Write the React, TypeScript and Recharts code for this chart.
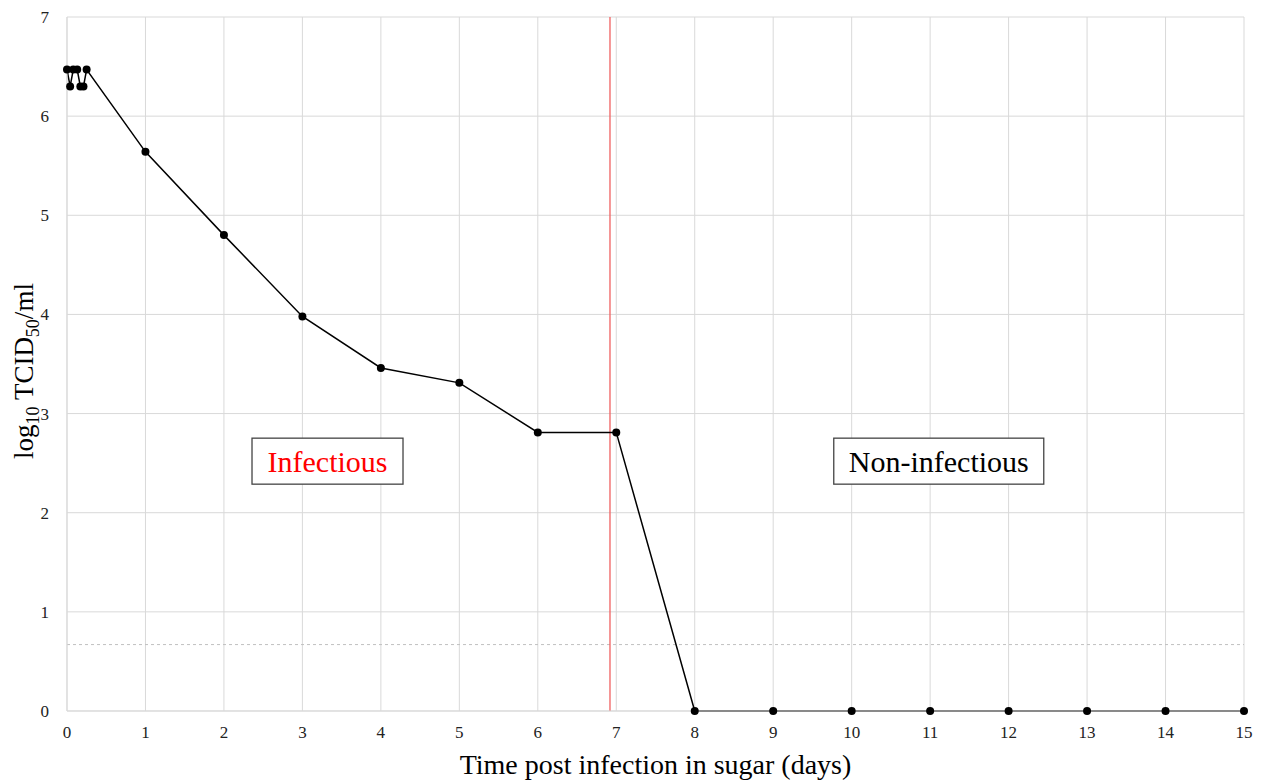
import React from "react";
import { LineChart, Line, XAxis, YAxis, CartesianGrid, ReferenceLine, ReferenceDot, Label } from "recharts";

// sampling times in days (first day sampled hourly)
const days = [0, 0.04, 0.08, 0.13, 0.17, 0.21, 0.25, 1, 2, 3, 4, 5, 6, 7, 8, 9, 10, 11, 12, 13, 14, 15];
// log10 TCID50/ml
const titers = [6.47, 6.3, 6.47, 6.47, 6.3, 6.3, 6.47, 5.64, 4.8, 3.98, 3.46, 3.31, 2.81, 2.81, 0, 0, 0, 0, 0, 0, 0, 0];

const xTicks = [0, 1, 2, 3, 4, 5, 6, 7, 8, 9, 10, 11, 12, 13, 14, 15];
const yTicks = [0, 1, 2, 3, 4, 5, 6, 7];

const cutoffDay = 6.92;
const detectionLimit = 0.67;

const chartData = days.map((d, i) => ({ day: d, titer: titers[i] }));

const FONT = '"Liberation Serif", "Times New Roman", serif';

const BoxLabel = (props: any) => {
    const { cx, cy, text, color, w } = props;
    const h = 46;
    return (
        <g>
            <rect x={cx - w / 2} y={cy - h / 2} width={w} height={h} fill="#fff" stroke="#444" strokeWidth={1.3} />
            <text x={cx} y={cy + 11} textAnchor="middle" fontFamily={FONT} fontSize={30} fill={color}>
                {text}
            </text>
        </g>
    );
};

const YTitle = () => {
    const cx = 33;
    const cy = 371;
    return (
        <text
            transform={`translate(${cx},${cy}) rotate(-90)`}
            textAnchor="middle"
            fontFamily={FONT}
            fontSize={27}
            fill="#000"
        >
            log<tspan fontSize={18} dy={6}>10</tspan>
            <tspan dy={-6}> TCID</tspan>
            <tspan fontSize={18} dy={6}>50</tspan>
            <tspan dy={-6}>/ml</tspan>
        </text>
    );
};

const App: React.FC = () => {
    return (
        <div style={{ position: "absolute", left: 0, top: 0 }}>
            <LineChart
                width={1266}
                height={783}
                data={chartData}
                margin={{ top: 17, right: 22, bottom: 42, left: 0 }}
                style={{ background: "#fff" }}
            >
                <CartesianGrid stroke="#d9d9d9" strokeWidth={1} />
                <XAxis
                    dataKey="day"
                    type="number"
                    domain={[0, 15]}
                    ticks={xTicks}
                    axisLine={{ stroke: "#d9d9d9" }}
                    tickLine={false}
                    tickSize={0}
                    tickMargin={15}
                    tick={{ fontFamily: FONT, fontSize: 17, fill: "#222" }}
                    interval={0}
                >
                    <Label
                        value="Time post infection in sugar (days)"
                        position="bottom"
                        offset={13}
                        style={{ fontFamily: FONT, fontSize: 28, fill: "#000" }}
                    />
                </XAxis>
                <YAxis
                    type="number"
                    domain={[0, 7]}
                    ticks={yTicks}
                    width={67}
                    axisLine={{ stroke: "#d9d9d9" }}
                    tickLine={false}
                    tickSize={0}
                    tickMargin={18}
                    tick={{ fontFamily: FONT, fontSize: 17, fill: "#222" }}
                    interval={0}
                >
                    <Label content={<YTitle />} />
                </YAxis>
                <ReferenceLine y={detectionLimit} stroke="#c0c0c0" strokeDasharray="3 3" strokeWidth={1} />
                <ReferenceLine x={cutoffDay} stroke="#f06060" strokeWidth={1.3} />
                <Line
                    type="linear"
                    dataKey="titer"
                    stroke="#000"
                    strokeWidth={1.5}
                    dot={{ r: 4, fill: "#000", stroke: "#000", strokeWidth: 0 }}
                    activeDot={false}
                    isAnimationActive={false}
                />
                <ReferenceDot
                    x={3.32}
                    y={2.52}
                    shape={(p: any) => <BoxLabel {...p} text="Infectious" color="#ff0000" w={151} />}
                />
                <ReferenceDot
                    x={11.11}
                    y={2.52}
                    shape={(p: any) => <BoxLabel {...p} text="Non-infectious" color="#000" w={210} />}
                />
            </LineChart>
        </div>
    );
};

export default App;
